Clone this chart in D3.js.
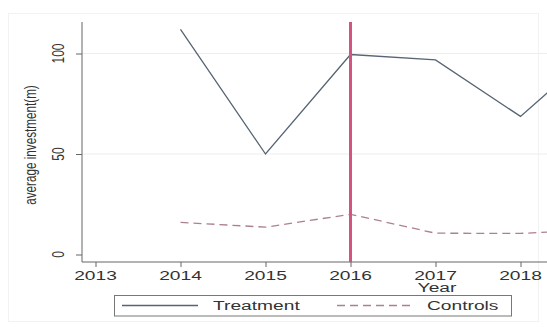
<!DOCTYPE html>
<html><head><meta charset="utf-8">
<script src="https://cdn.jsdelivr.net/npm/d3@7"></script>
<style>html,body{margin:0;padding:0;background:#fff;overflow:hidden}</style>
</head><body>
<script>
const years = [2014, 2015, 2016, 2017, 2018, 2019];
const treatment = [112, 50, 99.5, 96.8, 68.7, 106];
const controls = [16, 13.6, 20, 10.6, 10.5, 12.5];
const xTicks = [2013, 2014, 2015, 2016, 2017, 2018];
const yTicks = [0, 50, 100];
const seriesNames = ["Treatment", "Controls"];
const eventYear = 2016;
const yTitle = "average investment(m)";
const xTitle = "Year";

(function () {
const W = 547, H = 327;
const svg = d3.select("body").append("svg").attr("width", W).attr("height", H)
  .style("font-family", "'Liberation Sans', Arial, sans-serif");

const x = d3.scaleLinear().domain([2013, 2018]).range([95.5, 520.5]);
const y = d3.scaleLinear().domain([0, 100]).range([254.5, 53.5]);
const plotLeft = 82, plotTop = 22, plotBottom = 262;
const SX = 1.6, SR = 1.4, FS = 12;
const txt = "#333";

// faint outer frame
svg.append("rect").attr("x", 8.5).attr("y", 13.5).attr("width", 530).attr("height", 308)
  .attr("fill", "none").attr("stroke", "#f2f2f2");

// gridlines
svg.selectAll("line.grid").data(yTicks.filter(d => d > 0)).enter().append("line")
  .attr("x1", plotLeft).attr("x2", W).attr("y1", d => y(d)).attr("y2", d => y(d))
  .attr("stroke", "#ededed").attr("stroke-width", 1);

// axes
const gx = svg.append("g").attr("transform", `translate(0,${plotBottom})`)
  .call(d3.axisBottom(x).tickValues(xTicks).tickSize(5).tickFormat(""));
gx.select(".domain").attr("d", `M${plotLeft},0H${W}`).attr("stroke", "#666");
gx.selectAll(".tick line").attr("stroke", "#666");

const gy = svg.append("g").attr("transform", `translate(${plotLeft},0)`)
  .call(d3.axisLeft(y).tickValues(yTicks).tickSize(6).tickFormat(""));
gy.select(".domain").attr("d", `M0,${plotTop}V${plotBottom}`).attr("stroke", "#666");
gy.selectAll(".tick line").attr("stroke", "#666");

// x tick labels
svg.selectAll("text.xt").data(xTicks).enter().append("text")
  .attr("transform", d => `translate(${x(d)},279.5) scale(${SX},1)`)
  .attr("text-anchor", "middle").attr("font-size", FS).attr("fill", txt)
  .text(d => d);
// y tick labels
svg.selectAll("text.yt").data(yTicks).enter().append("text")
  .attr("transform", d => `translate(63.5,${y(d)}) rotate(-90) scale(1,${SR})`)
  .attr("text-anchor", "middle").attr("font-size", FS).attr("fill", txt)
  .text(d => d);
// axis titles
svg.append("text").attr("transform", `translate(36,145) rotate(-90) scale(1,${SR})`)
  .attr("text-anchor", "middle").attr("font-size", 11.7).attr("fill", txt).text(yTitle);
svg.append("text").attr("transform", `translate(437,291.5) scale(${SX},1)`)
  .attr("text-anchor", "middle").attr("font-size", FS).attr("fill", txt).text(xTitle);

// lines
const line = d3.line().x((d, i) => x(years[i])).y(d => y(d));
svg.append("path").datum(controls).attr("d", line).attr("fill", "none")
  .attr("stroke", "#ad8090").attr("stroke-width", 1.3).attr("stroke-dasharray", "8,5");
svg.append("path").datum(treatment).attr("d", line).attr("fill", "none")
  .attr("stroke", "#566473").attr("stroke-width", 1.3);

// event line
svg.append("line").attr("x1", x(eventYear)).attr("x2", x(eventYear))
  .attr("y1", plotTop).attr("y2", plotBottom).attr("stroke", "#d3557f").attr("stroke-width", 3);

// legend
const lg = svg.append("g");
lg.append("rect").attr("x", 114.5).attr("y", 295.5).attr("width", 397).attr("height", 20.5)
  .attr("fill", "#fff").attr("stroke", "#777");
const legItems = [
  {name: seriesNames[0], x1: 122, x2: 198, tx: 213, color: "#566473", dash: null},
  {name: seriesNames[1], x1: 337, x2: 413, tx: 427, color: "#ad8090", dash: "8,5"}
];
legItems.forEach(it => {
  lg.append("line").attr("x1", it.x1).attr("x2", it.x2).attr("y1", 305.5).attr("y2", 305.5)
    .attr("stroke", it.color).attr("stroke-width", 1.3).attr("stroke-dasharray", it.dash);
  lg.append("text").attr("transform", `translate(${it.tx},310) scale(${SX},1)`)
    .attr("font-size", FS).attr("fill", txt).text(it.name);
});
})();
</script>
</body></html>
